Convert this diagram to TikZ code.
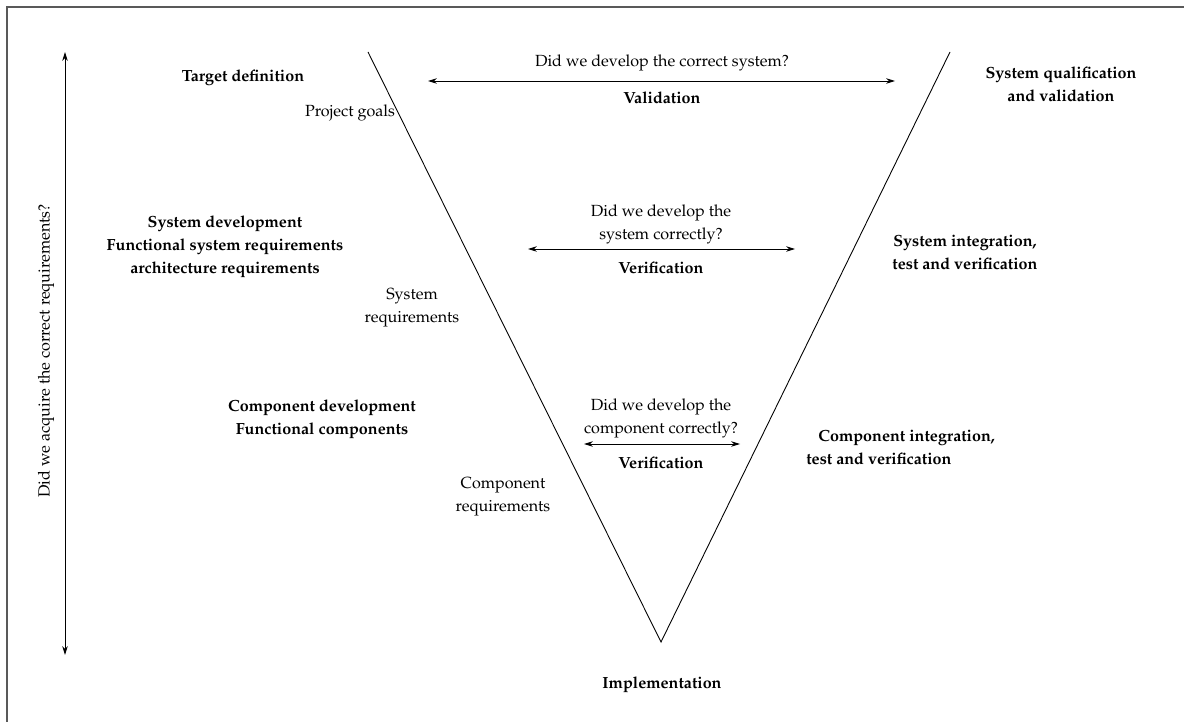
\documentclass[tikz,border=0pt]{standalone}
\usepackage[T1]{fontenc}
\usepackage{mathpazo}
\usetikzlibrary{arrows.meta}
\tikzset{
  txt/.style={inner sep=0pt, align=center, font=\fontsize{10}{14.2}\selectfont},
  bold/.style={txt, font=\fontsize{10}{14.2}\selectfont\bfseries},
  vline/.style={line width=0.55pt},
  dblarrow/.style={line width=0.55pt, {Stealth[length=5.5pt,width=3.4pt]}-{Stealth[length=5.5pt,width=3.4pt]}},
  frame/.style={draw=black!65, line width=1pt}
}
\begin{document}
\begin{tikzpicture}[x=0.62pt,y=-0.62pt]
\useasboundingbox (0,0) rectangle (1184,722);
\begin{scope}
  \clip (0,0) rectangle (1184,722);
  \draw[frame] (7,740) -- (7,7) -- (1200,7);
\end{scope}

% the V
\coordinate (vtl) at (368,52);
\coordinate (vb) at (661,642);
\coordinate (vtr) at (950,52);
\draw[vline] (vtl) -- (vb) -- (vtr);

% requirements axis
\coordinate (at) at (65,52);
\coordinate (ab) at (65,655);
\draw[dblarrow] (at) -- (ab);
\node[txt, rotate=90] (req) at (46,351) {Did we acquire the correct requirements?};

% validation
\coordinate (v1l) at (428,81);
\coordinate (v1r) at (895,81);
\draw[dblarrow] (v1l) -- (v1r);
\node[txt] (q1) at (662,63) {Did we develop the correct system?};
\node[bold] (val) at (662,98) {Validation};

% system verification
\coordinate (v2l) at (528,249);
\coordinate (v2r) at (795,249);
\draw[dblarrow] (v2l) -- (v2r);
\node[txt] (q2) at (661,224) {Did we develop the\\system correctly?};
\node[bold] (ver2) at (661,268) {Verification};

% component verification
\coordinate (v3l) at (584,444);
\coordinate (v3r) at (740,444);
\draw[dblarrow] (v3l) -- (v3r);
\node[txt] (q3) at (661,418) {Did we develop the\\component correctly?};
\node[bold] (ver3) at (661,463) {Verification};

% left branch
\node[bold] (td) at (243,78) {Target definition};
\node[txt] (pg) at (350,113) {Project goals};
\node[bold] (sd) at (225,247) {System development\\Functional system requirements\\architecture requirements};
\node[txt] (sr) at (412,308) {System\\requirements};
\node[bold] (cd) at (322,419) {Component development\\Functional components};
\node[txt] (cr) at (503,497) {Component\\requirements};

% right branch
\node[bold] (sq) at (1061,84) {System qualification\\and validation};
\node[bold] (si) at (965,252) {System integration,\\test and verification};
\node[bold, align=left, anchor=west] (ci) at (806,447) {\hspace*{7.5pt}Component integration,\\test and verification};

% bottom
\node[bold] (impl) at (662,685) {Implementation};
\end{tikzpicture}
\end{document}
